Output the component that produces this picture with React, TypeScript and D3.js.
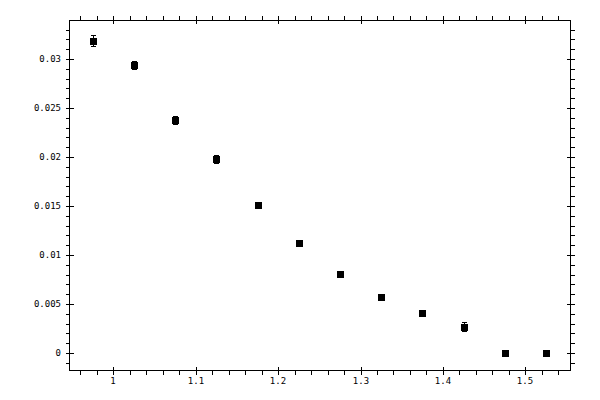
import React, { useEffect, useRef } from 'react';
import * as d3 from 'd3';

// bin centres and measured values
const xValues = [0.975, 1.025, 1.075, 1.125, 1.175, 1.225, 1.275, 1.325, 1.375, 1.425, 1.475, 1.525];
const yValues = [0.03184, 0.02939, 0.02378, 0.0198, 0.01507, 0.0112, 0.00803, 0.00568, 0.00408, 0.00269, 0, 0];
const yErrors = [0.00056, 0.0004, 0.00042, 0.0004, 0.0003, 0.00025, 0.0002, 0.0002, 0.0003, 0.00045, 0.0001, 0.0001];

const xMajor = [1, 1.1, 1.2, 1.3, 1.4, 1.5];
const xMinor = d3.range(48, 78).map(i => i * 0.02);
const yMajor = [0, 0.005, 0.01, 0.015, 0.02, 0.025, 0.03];
const yMinor = d3.range(-1, 34).map(i => i * 0.001);

const W = 600;
const H = 400;
const frame = { left: 69.5, right: 570.5, top: 20.5, bottom: 370.5 };

export default function App() {
  const svgRef = useRef<SVGSVGElement>(null);

  useEffect(() => {
    if (!svgRef.current) return;
    const svg = d3.select(svgRef.current);
    svg.selectAll('*').remove();

    const x = d3.scaleLinear().domain([1, 1.5]).range([113.3, 525.3]);
    const y = d3.scaleLinear().domain([0, 0.03]).range([353, 59]);

    const g = svg.append('g')
      .attr('stroke', '#000')
      .attr('shape-rendering', 'crispEdges');

    // frame
    g.append('rect')
      .attr('x', frame.left)
      .attr('y', frame.top)
      .attr('width', frame.right - frame.left)
      .attr('height', frame.bottom - frame.top)
      .attr('fill', 'none')
      .attr('stroke-width', 1);

    const line = (x1: number, y1: number, x2: number, y2: number) =>
      g.append('line').attr('x1', x1).attr('y1', y1).attr('x2', x2).attr('y2', y2);

    // x ticks, bottom and top
    xMinor.forEach(v => {
      const px = Math.round(x(v)) + 0.5;
      line(px, frame.bottom, px, frame.bottom + 4);
      line(px, frame.top, px, frame.top - 5);
    });
    xMajor.forEach(v => {
      const px = Math.round(x(v)) + 0.5;
      line(px, frame.bottom - 4, px, frame.bottom + 4);
      line(px, frame.top - 5, px, frame.top + 3);
    });

    // y ticks, left and right
    yMinor.forEach(v => {
      const py = Math.round(y(v)) + 0.5;
      line(frame.left - 4, py, frame.left, py);
      line(frame.right, py, frame.right + 4, py);
    });
    yMajor.forEach(v => {
      const py = Math.round(y(v)) + 0.5;
      line(frame.left - 4, py, frame.left + 4, py);
      line(frame.right - 4, py, frame.right + 4, py);
    });

    const fmt = (v: number) => String(+v.toFixed(3));

    svg.append('g')
      .selectAll('text')
      .data(xMajor)
      .join('text')
      .attr('x', d => Math.round(x(d)))
      .attr('y', 384)
      .attr('text-anchor', 'middle')
      .attr('font-family', 'DejaVu Sans Mono')
      .attr('font-size', 9)
      .text(d => fmt(d));

    svg.append('g')
      .selectAll('text')
      .data(yMajor)
      .join('text')
      .attr('x', 61)
      .attr('y', d => Math.round(y(d)) + 3)
      .attr('text-anchor', 'end')
      .attr('font-family', 'DejaVu Sans Mono')
      .attr('font-size', 9)
      .text(d => fmt(d));

    // error bars
    const pts = xValues.map((xv, i) => ({ x: xv, y: yValues[i], e: yErrors[i] }));
    const eb = svg.append('g').attr('stroke', '#000').attr('shape-rendering', 'crispEdges');
    pts.forEach(p => {
      const cx = Math.round(x(p.x)) + 0.5;
      const top = Math.round(y(p.y + p.e)) + 0.5;
      const bot = Math.round(y(p.y - p.e)) + 0.5;
      eb.append('line').attr('x1', cx).attr('x2', cx).attr('y1', top).attr('y2', bot);
      eb.append('line').attr('x1', cx - 2.5).attr('x2', cx + 2.5).attr('y1', top).attr('y2', top);
      eb.append('line').attr('x1', cx - 2.5).attr('x2', cx + 2.5).attr('y1', bot).attr('y2', bot);
    });

    // square markers
    svg.append('g')
      .selectAll('rect')
      .data(pts)
      .join('rect')
      .attr('x', d => Math.round(x(d.x)) - 3)
      .attr('y', d => Math.round(y(d.y)) - 3)
      .attr('width', 7)
      .attr('height', 7)
      .attr('fill', '#000')
      .attr('shape-rendering', 'crispEdges');
  }, []);

  return (
    <svg
      ref={svgRef}
      width={W}
      height={H}
      style={{ position: 'absolute', left: 0, top: 0, background: '#fff' }}
    />
  );
}
